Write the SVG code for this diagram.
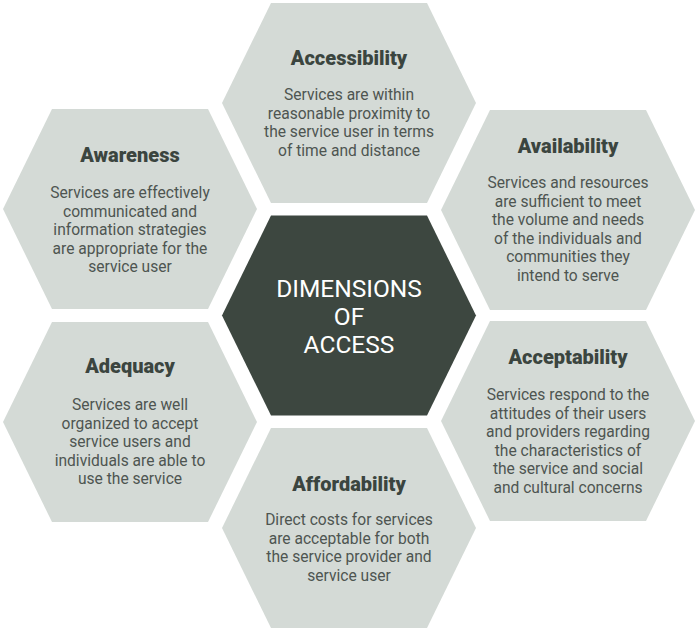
<svg xmlns="http://www.w3.org/2000/svg" width="698" height="633" viewBox="0 0 698 633">
<defs>
<style>
.hex{fill:#d4dad6;}
.core{fill:#3d4740;}
.t{font-family:Roboto,"Liberation Sans",sans-serif;font-weight:900;font-size:20px;fill:#3b453f;text-anchor:middle;}
.b{font-family:Roboto,"Liberation Sans",sans-serif;font-size:15.6px;fill:#4e5551;text-anchor:middle;}
.c{font-family:Roboto,"Liberation Sans",sans-serif;font-size:24.5px;fill:#ffffff;text-anchor:middle;}
</style>
<polygon id="hexshape" points="-127,0 -78,-100 78,-100 127,0 78,100 -78,100"/>
</defs>
<rect width="698" height="633" fill="#ffffff"/>
<g id="connectors"></g>
<g id="center">
<use href="#hexshape" class="core" x="349" y="315.5"/>
<text class="c" x="349" y="297">DIMENSIONS</text>
<text class="c" x="349" y="325">OF</text>
<text class="c" x="349" y="353">ACCESS</text>
</g>
<g id="accessibility">
<use href="#hexshape" class="hex" x="349" y="103"/>
<text class="t" x="349" y="65">Accessibility</text>
<text class="b" x="349" y="100">Services are within</text>
<text class="b" x="349" y="118.5">reasonable proximity to</text>
<text class="b" x="349" y="137">the service user in terms</text>
<text class="b" x="349" y="155.5">of time and distance</text>
</g>
<g id="awareness">
<use href="#hexshape" class="hex" x="130" y="209"/>
<text class="t" x="130" y="162">Awareness</text>
<text class="b" x="130" y="198">Services are effectively</text>
<text class="b" x="130" y="216.5">communicated and</text>
<text class="b" x="130" y="235">information strategies</text>
<text class="b" x="130" y="253.5">are appropriate for the</text>
<text class="b" x="130" y="272">service user</text>
</g>
<g id="availability">
<use href="#hexshape" class="hex" x="568" y="210"/>
<text class="t" x="568" y="153">Availability</text>
<text class="b" x="568" y="188">Services and resources</text>
<text class="b" x="568" y="206.5">are sufficient to meet</text>
<text class="b" x="568" y="225">the volume and needs</text>
<text class="b" x="568" y="243.5">of the individuals and</text>
<text class="b" x="568" y="262">communities they</text>
<text class="b" x="568" y="280.5">intend to serve</text>
</g>
<g id="adequacy">
<use href="#hexshape" class="hex" x="130" y="422"/>
<text class="t" x="130" y="373">Adequacy</text>
<text class="b" x="130" y="410">Services are well</text>
<text class="b" x="130" y="428.5">organized to accept</text>
<text class="b" x="130" y="447">service users and</text>
<text class="b" x="130" y="465.5">individuals are able to</text>
<text class="b" x="130" y="484">use the service</text>
</g>
<g id="acceptability">
<use href="#hexshape" class="hex" x="568" y="421"/>
<text class="t" x="568" y="364">Acceptability</text>
<text class="b" x="568" y="400">Services respond to the</text>
<text class="b" x="568" y="418.5">attitudes of their users</text>
<text class="b" x="568" y="437">and providers regarding</text>
<text class="b" x="568" y="455.5">the characteristics of</text>
<text class="b" x="568" y="474">the service and social</text>
<text class="b" x="568" y="492.5">and cultural concerns</text>
</g>
<g id="affordability">
<use href="#hexshape" class="hex" x="349" y="528"/>
<text class="t" x="349" y="491">Affordability</text>
<text class="b" x="349" y="525">Direct costs for services</text>
<text class="b" x="349" y="543.5">are acceptable for both</text>
<text class="b" x="349" y="562">the service provider and</text>
<text class="b" x="349" y="580.5">service user</text>
</g>
</svg>
